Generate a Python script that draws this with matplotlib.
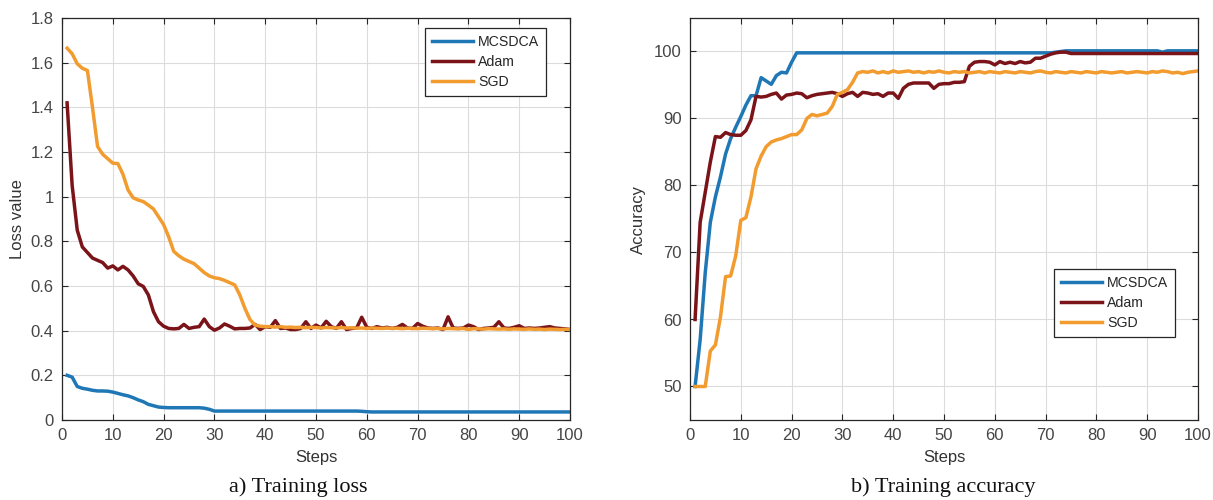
import numpy as np
import matplotlib
matplotlib.use("Agg")
import matplotlib.pyplot as plt

plt.rcParams['font.family'] = ['Liberation Sans', 'DejaVu Sans']

steps = list(range(1, 101))

series_names = ["MCSDCA", "Adam", "SGD"]
series_colors = ["#1F77B6", "#7A1419", "#F29B2F"]

loss_mcsdca = [
    0.200, 0.192, 0.150, 0.142, 0.138, 0.133, 0.130, 0.130, 0.129, 0.125,
    0.119, 0.113, 0.108, 0.100, 0.090, 0.082, 0.070, 0.064, 0.058, 0.056,
    0.055, 0.055, 0.055, 0.055, 0.055, 0.055, 0.055, 0.053, 0.048, 0.040,
    0.040, 0.040, 0.040, 0.040, 0.040, 0.040, 0.040, 0.040, 0.040, 0.040,
    0.040, 0.040, 0.040, 0.040, 0.040, 0.040, 0.040, 0.040, 0.040, 0.040,
    0.040, 0.040, 0.040, 0.040, 0.040, 0.040, 0.040, 0.040, 0.039, 0.037,
    0.036, 0.036, 0.036, 0.036, 0.036, 0.036, 0.036, 0.036, 0.036, 0.036,
    0.036, 0.036, 0.036, 0.036, 0.036, 0.036, 0.036, 0.036, 0.036, 0.036,
    0.036, 0.036, 0.036, 0.036, 0.036, 0.036, 0.036, 0.036, 0.036, 0.036,
    0.036, 0.036, 0.036, 0.036, 0.036, 0.036, 0.036, 0.036, 0.036, 0.036,
]

loss_adam = [
    1.420, 1.050, 0.850, 0.775, 0.750, 0.725, 0.715, 0.705, 0.680, 0.690,
    0.672, 0.688, 0.672, 0.645, 0.610, 0.598, 0.560, 0.485, 0.440, 0.420,
    0.410, 0.408, 0.410, 0.428, 0.410, 0.415, 0.418, 0.452, 0.418, 0.402,
    0.412, 0.430, 0.420, 0.408, 0.410, 0.410, 0.412, 0.428, 0.405, 0.418,
    0.415, 0.445, 0.410, 0.412, 0.405, 0.405, 0.410, 0.440, 0.410, 0.425,
    0.412, 0.442, 0.418, 0.410, 0.440, 0.405, 0.410, 0.412, 0.460, 0.415,
    0.410, 0.418, 0.412, 0.415, 0.410, 0.415, 0.428, 0.412, 0.410, 0.432,
    0.420, 0.412, 0.410, 0.412, 0.405, 0.462, 0.412, 0.410, 0.412, 0.425,
    0.418, 0.405, 0.410, 0.412, 0.415, 0.440, 0.412, 0.410, 0.415, 0.422,
    0.410, 0.412, 0.410, 0.412, 0.415, 0.418, 0.412, 0.410, 0.408, 0.405,
]

loss_sgd = [
    1.665, 1.640, 1.595, 1.575, 1.565, 1.400, 1.225, 1.190, 1.170, 1.150,
    1.148, 1.100, 1.030, 0.995, 0.985, 0.978, 0.962, 0.945, 0.910, 0.875,
    0.820, 0.755, 0.735, 0.720, 0.710, 0.700, 0.680, 0.660, 0.645, 0.637,
    0.633, 0.625, 0.615, 0.605, 0.560, 0.500, 0.450, 0.425, 0.420, 0.418,
    0.418, 0.416, 0.418, 0.415, 0.416, 0.414, 0.415, 0.413, 0.415, 0.414,
    0.412, 0.414, 0.413, 0.412, 0.414, 0.412, 0.413, 0.411, 0.412, 0.410,
    0.412, 0.411, 0.410, 0.412, 0.410, 0.411, 0.409, 0.411, 0.410, 0.409,
    0.411, 0.410, 0.409, 0.410, 0.408, 0.410, 0.409, 0.408, 0.410, 0.405,
    0.409, 0.408, 0.407, 0.409, 0.408, 0.407, 0.408, 0.406, 0.408, 0.407,
    0.406, 0.408, 0.406, 0.407, 0.405, 0.407, 0.406, 0.405, 0.406, 0.405,
]

acc_mcsdca = [
    50.0, 57.0, 67.0, 74.5, 78.3, 81.3, 84.7, 87.0, 88.7, 90.3,
    92.0, 93.4, 93.4, 96.1, 95.6, 95.1, 96.4, 96.9, 96.8, 98.4,
    99.8, 99.8, 99.8, 99.8, 99.8, 99.8, 99.8, 99.8, 99.8, 99.8,
    99.8, 99.8, 99.8, 99.8, 99.8, 99.8, 99.8, 99.8, 99.8, 99.8,
    99.8, 99.8, 99.8, 99.8, 99.8, 99.8, 99.8, 99.8, 99.8, 99.8,
    99.8, 99.8, 99.8, 99.8, 99.8, 99.8, 99.8, 99.8, 99.8, 99.8,
    99.8, 99.8, 99.8, 99.8, 99.8, 99.8, 99.8, 99.8, 99.8, 99.8,
    99.8, 99.9, 100.0, 100.1, 100.1, 100.1, 100.1, 100.1, 100.1, 100.1,
    100.1, 100.1, 100.1, 100.1, 100.1, 100.1, 100.1, 100.1, 100.1, 100.1,
    100.1, 100.1, 99.9, 100.1, 100.1, 100.1, 100.1, 100.1, 100.1, 100.1,
]

acc_adam = [
    60.0, 74.5, 79.0, 83.5, 87.3, 87.2, 87.9, 87.6, 87.5, 87.5,
    88.2, 89.8, 93.3, 93.2, 93.3, 93.6, 93.8, 92.9, 93.5, 93.6,
    93.8, 93.7, 93.1, 93.4, 93.6, 93.7, 93.8, 93.9, 93.7, 93.3,
    93.7, 93.9, 93.3, 93.9, 93.8, 93.6, 93.7, 93.3, 93.8, 93.8,
    93.0, 94.5, 95.1, 95.3, 95.3, 95.3, 95.3, 94.5, 95.1, 95.2,
    95.2, 95.4, 95.4, 95.5, 97.8, 98.4, 98.5, 98.5, 98.4, 98.0,
    98.5, 98.2, 98.4, 98.2, 98.5, 98.3, 98.4, 99.0, 99.0, 99.3,
    99.6, 99.8, 99.9, 99.9, 99.7, 99.7, 99.7, 99.7, 99.7, 99.7,
    99.7, 99.7, 99.7, 99.7, 99.7, 99.7, 99.7, 99.7, 99.7, 99.7,
    99.7, 99.7, 99.7, 99.7, 99.7, 99.7, 99.7, 99.7, 99.7, 99.7,
]

acc_sgd = [
    50.0, 50.0, 50.0, 55.3, 56.2, 60.4, 66.4, 66.5, 69.5, 74.8,
    75.2, 78.3, 82.5, 84.4, 85.8, 86.5, 86.8, 87.0, 87.3, 87.6,
    87.6, 88.3, 90.0, 90.6, 90.4, 90.6, 90.8, 91.8, 93.6, 93.9,
    94.3, 95.4, 96.8, 97.0, 96.9, 97.1, 96.8, 97.0, 96.8, 97.1,
    96.9, 97.0, 97.1, 96.9, 97.0, 96.8, 97.0, 96.9, 97.1, 96.9,
    96.8, 97.0, 96.9, 97.0, 96.8, 96.9, 97.0, 96.8, 97.0, 96.9,
    96.8, 97.0, 96.9, 96.8, 97.0, 96.9, 96.8, 97.0, 97.1, 96.9,
    96.8, 97.0, 96.9, 96.8, 97.0, 96.9, 96.8, 97.0, 96.9, 96.8,
    97.0, 96.9, 96.8, 96.9, 97.0, 96.8, 96.9, 97.0, 96.9, 96.8,
    97.0, 96.9, 97.1, 97.0, 96.8, 96.9, 96.7, 96.9, 97.0, 97.1,
]

loss_ticks = [0, 0.2, 0.4, 0.6, 0.8, 1, 1.2, 1.4, 1.6, 1.8]
loss_tick_labels = ["0", "0.2", "0.4", "0.6", "0.8", "1", "1.2", "1.4", "1.6", "1.8"]
acc_ticks = [50, 60, 70, 80, 90, 100]
step_ticks = list(range(0, 101, 10))

fig = plt.figure(figsize=(12.13, 5.0), dpi=100)
ax1 = fig.add_axes([62 / 1213, 80 / 500, 508 / 1213, 402 / 500])
ax2 = fig.add_axes([690 / 1213, 80 / 500, 508 / 1213, 402 / 500])

tick_color = "#454545"


def style_axes(ax):
    ax.set_facecolor("white")
    ax.grid(True, color="#dcdcdc", linewidth=0.8)
    ax.set_axisbelow(True)
    for s in ax.spines.values():
        s.set_color("#262626")
        s.set_linewidth(0.9)
    ax.tick_params(direction="in", length=4, width=0.8, color="#262626",
                   top=True, right=True, labelsize=12, labelcolor=tick_color)
    ax.tick_params(axis="x", pad=6)
    ax.tick_params(axis="y", pad=6)
    ax.set_xlim(0, 100)
    ax.set_xticks(step_ticks)
    ax.set_xlabel("Steps", fontsize=12, color="#333333", labelpad=5)


loss_data = [loss_mcsdca, loss_adam, loss_sgd]
acc_data = [acc_mcsdca, acc_adam, acc_sgd]

for name, color, ys in zip(series_names, series_colors, loss_data):
    ax1.plot(steps, ys, color=color, linewidth=2.5, label=name,
             solid_joinstyle="round")
style_axes(ax1)
ax1.set_ylim(0, 1.8)
ax1.set_yticks(loss_ticks)
ax1.set_yticklabels(loss_tick_labels)
ax1.set_ylabel("Loss value", fontsize=12, color="#333333", labelpad=4)

for name, color, ys in zip(series_names, series_colors, acc_data):
    ax2.plot(steps, ys, color=color, linewidth=2.5, label=name,
             solid_joinstyle="round")
style_axes(ax2)
ax2.set_ylim(45, 105)
ax2.set_yticks(acc_ticks)
ax2.set_ylabel("Accuracy", fontsize=12, color="#333333", labelpad=6)

legend_kw = dict(fontsize=10.2, frameon=True, fancybox=False, framealpha=1,
                 edgecolor="#262626", handlelength=2.9, handletextpad=0.35,
                 borderpad=0.5, labelspacing=0.42, borderaxespad=0)
leg1 = ax1.legend(loc="upper right", bbox_to_anchor=(0.953, 0.975), **legend_kw)
leg2 = ax2.legend(loc="upper right", bbox_to_anchor=(0.955, 0.376), **legend_kw)
for leg in (leg1, leg2):
    leg.get_frame().set_linewidth(0.9)
    for t in leg.get_texts():
        t.set_color("#262626")

fig.text(298 / 1213, 1 - 487 / 500, "a) Training loss", ha="center", va="center",
         fontsize=16, family=["Liberation Serif", "DejaVu Serif"], color="#111111")
fig.text(943 / 1213, 1 - 487 / 500, "b) Training accuracy", ha="center", va="center",
         fontsize=16, family=["Liberation Serif", "DejaVu Serif"], color="#111111")

fig.savefig("out.png", dpi=100, facecolor="white")
